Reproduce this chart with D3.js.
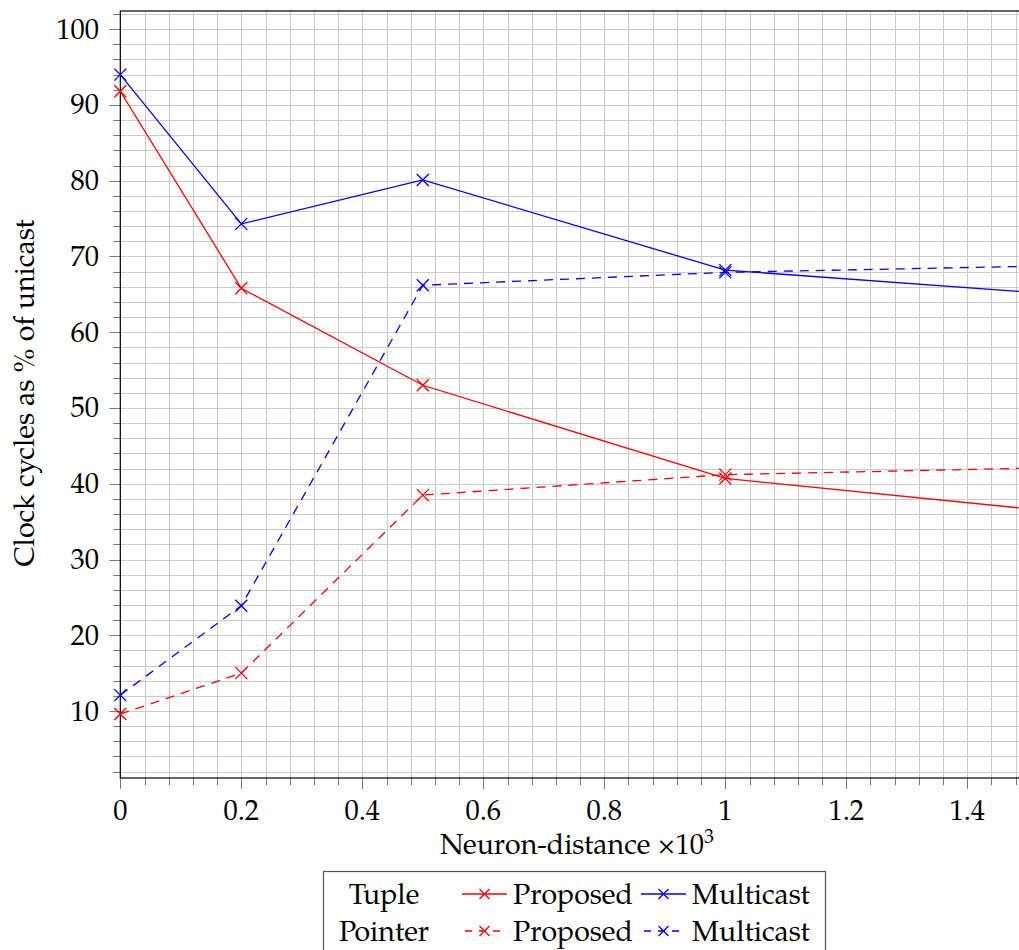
<!DOCTYPE html>
<html>
<head>
<meta charset="utf-8">
<script src="https://cdn.jsdelivr.net/npm/d3@7"></script>
<style>
    body { margin: 0; background: #fff; }
    svg { display: block; font-family: 'TeX Gyre Pagella', 'Palatino Linotype', Palatino, 'Liberation Serif', serif; }
    .grid line { stroke: #cbcbcb; stroke-width: 1; }
    .tick-mark { stroke: #7a7a7a; stroke-width: 1; }
    .label { font-size: 28.5px; fill: #000; }
</style>
</head>
<body>
<svg id="Chart" width="1019" height="950"></svg>
<script>
// neuron distance (x1000)
var distances = [0, 0.2, 0.5, 1, 1.5];
var tupleProposed = [91.8, 65.8, 53.0, 40.7, 36.7];
var tupleMulticast = [94.0, 74.3, 80.1, 68.2, 65.3];
var pointerProposed = [9.6, 15.0, 38.5, 41.2, 42.05];
var pointerMulticast = [12.1, 23.9, 66.2, 67.9, 68.7];
var xTicks = [0, 0.2, 0.4, 0.6, 0.8, 1, 1.2, 1.4];
var yTicks = [10, 20, 30, 40, 50, 60, 70, 80, 90, 100];
var rowNames = ['Tuple', 'Pointer'];

var series = [
    { name: 'Proposed', row: 0, col: 0, color: '#ff0000', dash: null, values: tupleProposed },
    { name: 'Multicast', row: 0, col: 1, color: '#0000ff', dash: null, values: tupleMulticast },
    { name: 'Proposed', row: 1, col: 0, color: '#ff0000', dash: '9,7', values: pointerProposed },
    { name: 'Multicast', row: 1, col: 1, color: '#0000ff', dash: '9,7', values: pointerMulticast }
];

function drawChart() {
    var svg = d3.select('#Chart');
    var plotLeft = 120.3;
    var plotTop = 11;
    var plotBottom = 778;
    var xScale = d3.scaleLinear().domain([0, 1.5]).range([plotLeft, plotLeft + 1.5 * 605]);
    var yScale = d3.scaleLinear().domain([1.16, 102.4]).range([plotBottom, plotTop]);
    var plotRight = xScale(1.5);

    svg.append('defs').append('clipPath').attr('id', 'plotClip')
        .append('rect')
        .attr('x', plotLeft).attr('y', plotTop)
        .attr('width', plotRight - plotLeft).attr('height', plotBottom - plotTop);

    // grid (every minor step)
    var xMinor = d3.range(0, 1.5001, 0.04);
    var yMinor = d3.range(2, 102.01, 2);
    var grid = svg.append('g').attr('class', 'grid');
    grid.selectAll('.gx')
        .data(xMinor)
        .enter()
        .append('line')
        .attr('x1', function (d) { return Math.round(xScale(d)) + 0.5; })
        .attr('x2', function (d) { return Math.round(xScale(d)) + 0.5; })
        .attr('y1', plotTop)
        .attr('y2', plotBottom);
    grid.selectAll('.gy')
        .data(yMinor)
        .enter()
        .append('line')
        .attr('x1', plotLeft)
        .attr('x2', plotRight)
        .attr('y1', function (d) { return Math.round(yScale(d)) + 0.5; })
        .attr('y2', function (d) { return Math.round(yScale(d)) + 0.5; });

    // ticks outside the box
    svg.append('g')
        .selectAll('line')
        .data(xMinor)
        .enter()
        .append('line')
        .attr('class', 'tick-mark')
        .attr('x1', function (d) { return Math.round(xScale(d)) + 0.5; })
        .attr('x2', function (d) { return Math.round(xScale(d)) + 0.5; })
        .attr('y1', plotBottom)
        .attr('y2', function (d, i) { return plotBottom + (i % 5 === 0 ? 11 : 7); });
    svg.append('g')
        .selectAll('line')
        .data(yMinor)
        .enter()
        .append('line')
        .attr('class', 'tick-mark')
        .attr('x1', function (d) { return plotLeft - (Math.round(d) % 10 === 0 ? 11 : 7); })
        .attr('x2', plotLeft)
        .attr('y1', function (d) { return Math.round(yScale(d)) + 0.5; })
        .attr('y2', function (d) { return Math.round(yScale(d)) + 0.5; });

    // frame
    svg.append('rect')
        .attr('x', plotLeft).attr('y', plotTop)
        .attr('width', plotRight - plotLeft).attr('height', plotBottom - plotTop)
        .attr('fill', 'none')
        .attr('stroke', '#000')
        .attr('stroke-width', 1.2);

    // tick labels
    svg.append('g')
        .selectAll('text')
        .data(xTicks)
        .enter()
        .append('text')
        .attr('class', 'label')
        .attr('text-anchor', 'middle')
        .attr('x', function (d) { return xScale(d); })
        .attr('y', 820)
        .text(function (d) { return d; });
    svg.append('g')
        .selectAll('text')
        .data(yTicks)
        .enter()
        .append('text')
        .attr('class', 'label')
        .attr('text-anchor', 'end')
        .attr('x', 99)
        .attr('y', function (d) { return yScale(d) + 9.5; })
        .text(function (d) { return d; });

    // axis titles
    var xTitle = svg.append('text')
        .attr('class', 'label')
        .attr('text-anchor', 'middle')
        .attr('x', 577)
        .attr('y', 854);
    xTitle.append('tspan').text('Neuron-distance \u00d710');
    xTitle.append('tspan').attr('dy', -11).style('font-size', '20px').text('3');
    svg.append('text')
        .attr('class', 'label')
        .attr('text-anchor', 'middle')
        .attr('transform', 'translate(34,393) rotate(-90)')
        .text('Clock cycles as % of unicast');

    // lines and markers
    function crossPath(x, y, r) {
        return 'M' + (x - r) + ',' + (y - r) + 'L' + (x + r) + ',' + (y + r) +
            'M' + (x - r) + ',' + (y + r) + 'L' + (x + r) + ',' + (y - r);
    }
    var line = d3.line()
        .x(function (d) { return xScale(d[0]); })
        .y(function (d) { return yScale(d[1]); });
    var plot = svg.append('g').attr('clip-path', 'url(#plotClip)');
    series.forEach(function (s) {
        var pts = distances.map(function (d, i) { return [d, s.values[i]]; });
        plot.append('path')
            .attr('d', line(pts))
            .attr('fill', 'none')
            .attr('stroke', s.color)
            .attr('stroke-width', 1.3)
            .attr('stroke-dasharray', s.dash);
        svg.append('g')
            .selectAll('path')
            .data(pts.filter(function (d) { return xScale(d[0]) < 1019; }))
            .enter()
            .append('path')
            .attr('d', function (d) { return crossPath(xScale(d[0]), yScale(d[1]), 6); })
            .attr('fill', 'none')
            .attr('stroke', s.color)
            .attr('stroke-width', 1.3);
    });

    // legend
    var legend = svg.append('g');
    legend.append('rect')
        .attr('x', 323.5).attr('y', 871.5)
        .attr('width', 502).attr('height', 100)
        .attr('fill', '#fff')
        .attr('stroke', '#555')
        .attr('stroke-width', 1.2);
    var rowY = [894, 931];
    legend.selectAll('.row')
        .data(rowNames)
        .enter()
        .append('text')
        .attr('class', 'label')
        .attr('text-anchor', 'middle')
        .attr('x', 384)
        .attr('y', function (d, i) { return rowY[i] + 9.5; })
        .text(function (d) { return d; });
    var colX = [462, 641];
    series.forEach(function (s) {
        var x0 = colX[s.col];
        var y0 = rowY[s.row];
        legend.append('line')
            .attr('x1', x0).attr('x2', x0 + 45)
            .attr('y1', y0).attr('y2', y0)
            .attr('stroke', s.color)
            .attr('stroke-width', 1.3)
            .attr('stroke-dasharray', s.dash ? '7,7' : null)
            .attr('stroke-dashoffset', s.dash ? -3 : null);
        legend.append('path')
            .attr('d', crossPath(x0 + 22.5, y0, 5))
            .attr('fill', 'none')
            .attr('stroke', s.color)
            .attr('stroke-width', 1.3);
        legend.append('text')
            .attr('class', 'label')
            .attr('x', x0 + 51)
            .attr('y', y0 + 9.5)
            .text(s.name);
    });
}

drawChart();
</script>
</body>
</html>
